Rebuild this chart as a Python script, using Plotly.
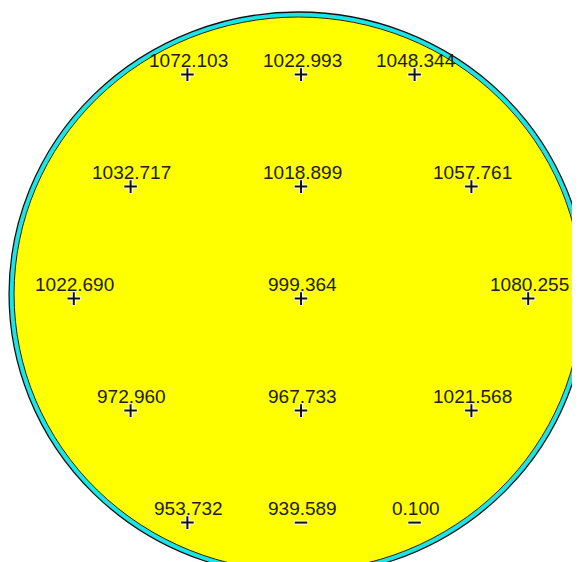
import plotly.graph_objects as go

# Wafer measurement sites (mm) and values
xs = [-40, 0, 40, -60, 0, 60, -80, 0, 80, -60, 0, 60, -40, 0, 40]
ys = [80, 80, 80, 40, 40, 40, 0, 0, 0, -40, -40, -40, -80, -80, -80]
values = ["1072.103", "1022.993", "1048.344",
          "1032.717", "1018.899", "1057.761",
          "1022.690", "999.364", "1080.255",
          "972.960", "967.733", "1021.568",
          "953.732", "939.589", "0.100"]
signs = ["+", "+", "+", "+", "+", "+", "+", "+", "+",
         "+", "+", "+", "+", "-", "-"]

W, H = 580, 562
sx, sy = 2.84, 2.80          # px per mm
cx_px, cy_px = 293.0, 290.6  # figure px of site (0,0) (page has 8px body margin)
x_range = [-cx_px / sx, (W - cx_px) / sx]
y_range = [-(H - cy_px) / sy, cy_px / sy]

# wafer outline (ellipse as drawn in the reference), in mm
wcx, wcy = -1.0, 1.6
wa, wb = 286.5 / sx, 279.5 / sy

fig = go.Figure()


def ell(dpx, **kw):
    a = wa + dpx / sx
    b = wb + dpx / sy
    fig.add_shape(type="circle", x0=wcx - a, x1=wcx + a, y0=wcy - b, y1=wcy + b,
                  layer="below", **kw)


ell(0, line=dict(color="#18E4EA", width=4.5), fillcolor="#FFFF00")
ell(2.6, line=dict(color="#111111", width=1.3), fillcolor="rgba(0,0,0,0)")
ell(-2.4, line=dict(color="#222211", width=1), fillcolor="rgba(0,0,0,0)")

plus_x = [x for x, s in zip(xs, signs) if s == "+"]
plus_y = [y for y, s in zip(ys, signs) if s == "+"]
minus_x = [x for x, s in zip(xs, signs) if s == "-"]
minus_y = [y for y, s in zip(ys, signs) if s == "-"]

for sym, mx, my in (("cross-thin", plus_x, plus_y), ("line-ew", minus_x, minus_y)):
    fig.add_trace(go.Scatter(x=mx, y=my, mode="markers", hoverinfo="skip",
                             marker=dict(symbol=sym, size=10, color="white",
                                         line=dict(color="white", width=4))))
    fig.add_trace(go.Scatter(x=mx, y=my, mode="markers", hoverinfo="skip",
                             marker=dict(symbol=sym, size=9, color="#111",
                                         line=dict(color="#111", width=2))))

for x, y, v in zip(xs, ys, values):
    fig.add_annotation(x=x, y=y, text=v, showarrow=False, yshift=14, xshift=1,
                       font=dict(family="Liberation Sans, Arial", size=19, color="#202000"))

fig.update_layout(
    width=W, height=H,
    margin=dict(l=0, r=0, t=0, b=0),
    paper_bgcolor="white", plot_bgcolor="white",
    showlegend=False,
    xaxis=dict(range=x_range, visible=False, fixedrange=True),
    yaxis=dict(range=y_range, visible=False, fixedrange=True),
)

fig.write_html("out.html")
